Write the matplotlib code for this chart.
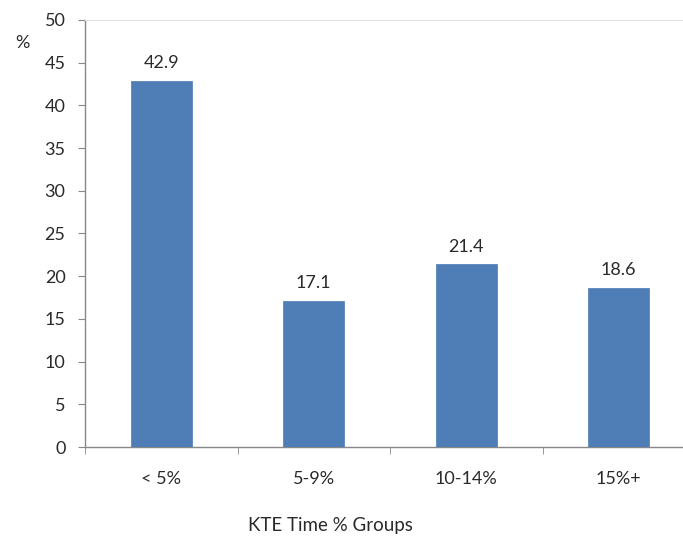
import matplotlib
matplotlib.use("Agg")
import matplotlib.pyplot as plt
import numpy as np

categories = ["< 5%", "5-9%", "10-14%", "15%+"]
values = [42.9, 17.1, 21.4, 18.6]
value_labels = ["42.9", "17.1", "21.4", "18.6"]
yticks = [0, 5, 10, 15, 20, 25, 30, 35, 40, 45, 50]

plt.rcParams['font.family'] = ['Lato', 'DejaVu Sans']

W, H = 683, 537
fig = plt.figure(figsize=(W / 100, H / 100), dpi=100)
left, right, top, bottom = 85, 695, 20, 447
ax = fig.add_axes([left / W, 1 - bottom / H, (right - left) / W, (bottom - top) / H])

FS = 13
TC = "#2a2a2a"
x = np.arange(len(categories))
ax.bar(x, values, width=0.4, color="#4F7DB5", edgecolor="#5A86BC", linewidth=0.6, zorder=3)
for xi, v, lab in zip(x, values, value_labels):
    ax.annotate(lab, (xi, v), xytext=(0, 7), textcoords="offset points",
                ha="center", va="bottom", fontsize=FS, color=TC)

ax.set_xlim(-0.5, len(categories) - 0.5)
ax.set_ylim(0, 50)
ax.set_yticks(yticks)
ax.set_yticklabels([str(t) for t in yticks], fontsize=FS, color=TC)
ax.set_xticks(x)
ax.set_xticklabels(categories, fontsize=FS, color=TC)
ax.set_xticks(np.arange(-0.5, len(categories) + 0.5, 1), minor=True)
ax.tick_params(axis="x", which="major", length=0, pad=17)
ax.tick_params(axis="x", which="minor", length=5, color="#888888", direction="out")
ax.tick_params(axis="y", length=5, color="#888888", direction="out", pad=9)

for s in ["left", "bottom"]:
    ax.spines[s].set_color("#888888")
    ax.spines[s].set_linewidth(1.0)
ax.spines["top"].set_color("#e2e2e2")
ax.spines["right"].set_visible(False)

fig.text(22 / W, 1 - 43 / H, "%", fontsize=FS, ha="center", va="center", color=TC)
fig.text(330 / W, 1 - 526 / H, "KTE Time % Groups", fontsize=13.5, ha="center", va="center", color=TC)

fig.savefig("out.png", dpi=100)
